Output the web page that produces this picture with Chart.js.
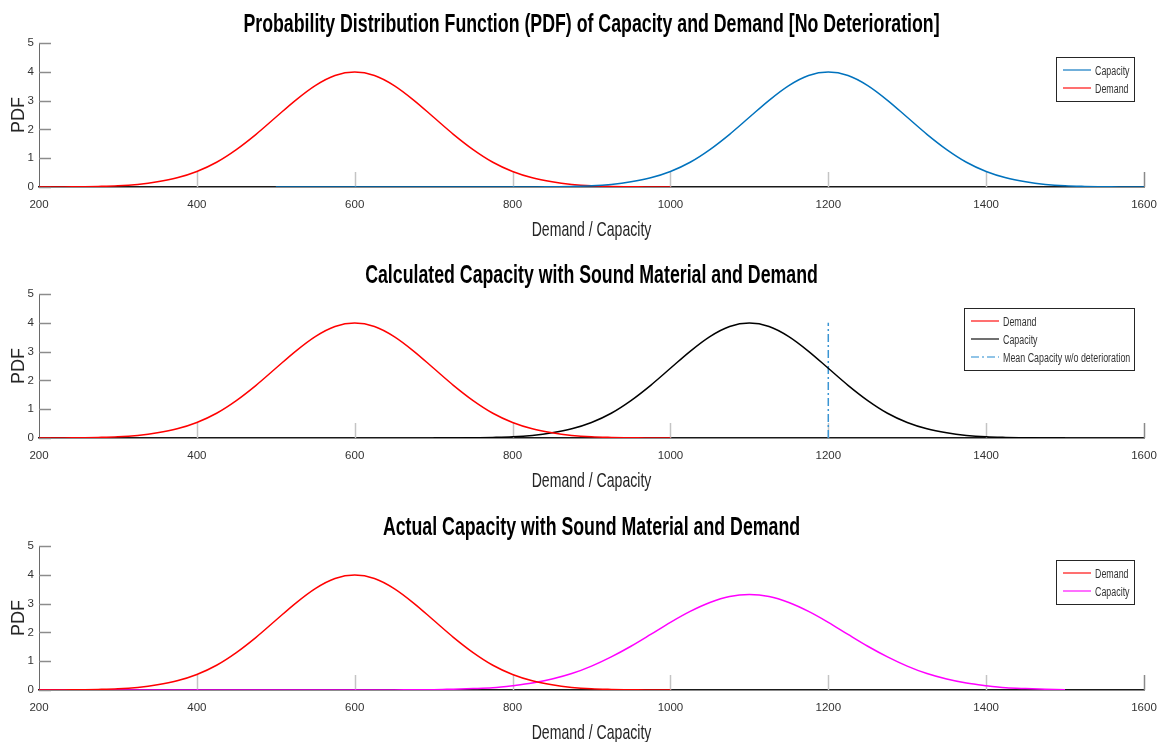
<!DOCTYPE html>
<html>
<head>
<meta charset="utf-8">
<script src="https://cdn.jsdelivr.net/npm/chart.js@4.4.1/dist/chart.umd.min.js"></script>
<style>
  html, body { margin: 0; padding: 0; background: #fff; }
  #page { position: relative; width: 1161px; height: 742px; overflow: hidden; }
  .panel { position: absolute; left: 0; width: 1161px; height: 252px; }
</style>
</head>
<body>
<div id="page">
  <div class="panel" style="top:0"><canvas id="pdf1"></canvas></div>
  <div class="panel" style="top:251px"><canvas id="pdf2"></canvas></div>
  <div class="panel" style="top:503px"><canvas id="pdf3"></canvas></div>
</div>
<script>
// Demand: same curve in all three panels
const demandX = [200, 225, 250, 275, 300, 325, 350, 375, 400, 425, 450, 475, 500, 525, 550, 575, 600,
  625, 650, 675, 700, 725, 750, 775, 800, 825, 850, 875, 900, 925, 950, 975, 1000];
const demandPdf = [0.00, 0.00, 0.01, 0.02, 0.04, 0.09, 0.18, 0.32, 0.54, 0.86, 1.30, 1.83, 2.42, 3.01, 3.52, 3.87, 3.99,
  3.87, 3.52, 3.01, 2.42, 1.83, 1.30, 0.86, 0.54, 0.32, 0.18, 0.09, 0.04, 0.02, 0.01, 0.00, 0.00];

// Capacity, no deterioration (panel 1)
const capacityX = [500, 600, 700, 800, 825, 850, 875, 900, 925, 950, 975, 1000, 1025, 1050, 1075, 1100, 1125, 1150, 1175,
  1200, 1225, 1250, 1275, 1300, 1325, 1350, 1375, 1400, 1425, 1450, 1475, 1500, 1525, 1550, 1575, 1600];
const capacityPdf = [0.00, 0.00, 0.00, 0.00, 0.00, 0.01, 0.02, 0.04, 0.09, 0.18, 0.32, 0.54, 0.86, 1.30, 1.83, 2.42, 3.01, 3.52, 3.87,
  3.99, 3.87, 3.52, 3.01, 2.42, 1.83, 1.30, 0.86, 0.54, 0.32, 0.18, 0.09, 0.04, 0.02, 0.01, 0.00, 0.00];

// Calculated capacity with sound material (panel 2)
const soundCapX = [700, 725, 750, 775, 800, 825, 850, 875, 900, 925, 950, 975, 1000, 1025, 1050, 1075, 1100,
  1125, 1150, 1175, 1200, 1225, 1250, 1275, 1300, 1325, 1350, 1375, 1400, 1425, 1450, 1475, 1500];
const soundCapPdf = [0.00, 0.00, 0.01, 0.02, 0.04, 0.09, 0.18, 0.32, 0.54, 0.86, 1.30, 1.83, 2.42, 3.01, 3.52, 3.87, 3.99,
  3.87, 3.52, 3.01, 2.42, 1.83, 1.30, 0.86, 0.54, 0.32, 0.18, 0.09, 0.04, 0.02, 0.01, 0.00, 0.00];
const meanCapX = [1200, 1200];
const meanCapPdf = [0, 4];

// Actual capacity with sound material (panel 3)
const actualCapX = [200, 300, 400, 500, 600, 650, 675, 700, 725, 750, 775, 800, 825, 850, 875, 900, 925, 950, 975, 1000,
  1025, 1050, 1075, 1100, 1125, 1150, 1175, 1200, 1225, 1250, 1275, 1300, 1325, 1350, 1375, 1400, 1425, 1450, 1475, 1500];
const actualCapPdf = [0.00, 0.00, 0.00, 0.00, 0.00, 0.00, 0.01, 0.01, 0.03, 0.05, 0.08, 0.15, 0.24, 0.38, 0.57, 0.83, 1.15, 1.52, 1.93, 2.35,
  2.73, 3.04, 3.25, 3.32, 3.25, 3.04, 2.73, 2.35, 1.93, 1.52, 1.15, 0.83, 0.57, 0.38, 0.24, 0.15, 0.08, 0.05, 0.03, 0.01];

const sans = '"Liberation Sans", Arial, sans-serif';
Chart.defaults.color = '#333';

const series = (label, xs, ys, color, dash) => ({
  label,
  data: xs.map((x, i) => ({ x, y: ys[i] })),
  borderColor: color,
  borderWidth: 1.5,
  borderDash: dash || [],
  pointRadius: 0,
  fill: false,
  cubicInterpolationMode: dash ? 'default' : 'monotone',
  tension: 0,
});

// the original figure uses tall, narrow lettering: squeeze the text horizontally
function narrowText(ctx, text, x, y, font, sx, align) {
  ctx.save();
  ctx.font = font;
  ctx.textAlign = align;
  ctx.textBaseline = 'alphabetic';
  ctx.translate(x, y);
  ctx.scale(sx, 1);
  ctx.fillText(text, 0, 0);
  ctx.restore();
}

// small tick marks pointing into the plot
const innerTicks = {
  id: 'innerTicks',
  beforeDatasetsDraw(chart) {
    const { ctx, scales: { x, y } } = chart;
    ctx.save();
    ctx.lineWidth = 1.5;
    x.ticks.forEach((t) => {
      if (t.value === x.min) return;
      const px = Math.round(x.getPixelForValue(t.value)) + 0.5;
      ctx.strokeStyle = t.value === x.max ? '#8a8a8a' : '#c4c4c4';
      ctx.beginPath();
      ctx.moveTo(px, y.bottom);
      ctx.lineTo(px, y.bottom - 15);
      ctx.stroke();
    });
    ctx.strokeStyle = '#8c8c8c';
    y.ticks.forEach((t) => {
      const py = Math.round(y.getPixelForValue(t.value)) + 0.5;
      ctx.beginPath();
      ctx.moveTo(x.left, py);
      ctx.lineTo(x.left + 12, py);
      ctx.stroke();
    });
    ctx.restore();
  },
};

// title, x axis title and boxed legend
const panelText = {
  id: 'panelText',
  afterDraw(chart, args, opts) {
    const { ctx, chartArea } = chart;
    const cx = (chartArea.left + chartArea.right) / 2;
    ctx.save();
    ctx.fillStyle = '#000';
    narrowText(ctx, opts.title, cx, 32, 'bold 25px ' + sans, 0.71, 'center');
    ctx.fillStyle = '#262626';
    narrowText(ctx, 'Demand / Capacity', cx, 236, '21px ' + sans, 0.67, 'center');

    const items = chart.data.datasets;
    const legendFont = '12.5px ' + sans;
    const sx = 0.71;
    ctx.font = legendFont;
    const textW = Math.max(...items.map((d) => ctx.measureText(d.label).width)) * sx;
    const w = Math.round(7 + 28 + 4 + textW + 4);
    const h = 26 + (items.length - 1) * 18;
    const right = chartArea.right - 10;
    const top = chartArea.top + 14;
    const left = right - w;
    ctx.fillStyle = '#fff';
    ctx.fillRect(left, top, w, h);
    ctx.strokeStyle = '#262626';
    ctx.lineWidth = 1;
    ctx.strokeRect(left + 0.5, top + 0.5, w, h);
    items.forEach((d, i) => {
      const y = top + 13 + i * 18;
      ctx.strokeStyle = d.borderColor;
      ctx.globalAlpha = 0.75;
      ctx.lineWidth = 1.5;
      ctx.setLineDash(d.borderDash);
      ctx.beginPath();
      ctx.moveTo(left + 7, y);
      ctx.lineTo(left + 35, y);
      ctx.stroke();
      ctx.setLineDash([]);
      ctx.globalAlpha = 1;
      ctx.fillStyle = '#333';
      narrowText(ctx, d.label, left + 39, y + 4.5, legendFont, sx, 'left');
    });
    ctx.restore();
  },
};

function makePanel(id, title, datasets) {
  return new Chart(document.getElementById(id), {
    type: 'line',
    data: { datasets },
    options: {
      responsive: true,
      maintainAspectRatio: false,
      animation: false,
      layout: { padding: { left: 0, right: 17, top: 43, bottom: 7 } },
      plugins: {
        legend: { display: false },
        tooltip: { enabled: false },
        title: { display: false },
        panelText: { title },
      },
      scales: {
        x: {
          type: 'linear',
          min: 200,
          max: 1600,
          // tick marks are drawn by innerTicks; tickLength only spaces the labels
          grid: { display: false, drawTicks: true, tickLength: 8 },
          border: { color: '#1a1a1a', width: 1.5 },
          ticks: {
            stepSize: 200, padding: 3, maxRotation: 0, autoSkip: false,
            format: { useGrouping: false },
            font: { family: sans, size: 11.5 },
          },
          title: { display: false },
          afterFit(s) { s.height = 58; },
        },
        y: {
          min: 0,
          max: 5,
          grid: { display: false, drawTicks: false },
          border: { color: '#6a6a6a', width: 1 },
          ticks: { stepSize: 1, padding: 5, font: { family: sans, size: 11.5 } },
          title: {
            display: true,
            text: 'PDF',
            color: '#262626',
            font: { family: sans, size: 18, lineHeight: 1.2 },
            padding: { top: 8, bottom: 0 },
          },
          afterFit(s) { s.width = 39; },
        },
      },
    },
    plugins: [innerTicks, panelText],
  });
}

makePanel('pdf1', 'Probability Distribution Function (PDF) of Capacity and Demand [No Deterioration]', [
  series('Capacity', capacityX, capacityPdf, '#0072BD'),
  series('Demand', demandX, demandPdf, '#FF0000'),
]);

makePanel('pdf2', 'Calculated Capacity with Sound Material and Demand', [
  series('Demand', demandX, demandPdf, '#FF0000'),
  series('Capacity', soundCapX, soundCapPdf, '#000000'),
  series('Mean Capacity w/o deterioration', meanCapX, meanCapPdf, '#3A95D3', [8, 3, 2, 3]),
]);

makePanel('pdf3', 'Actual Capacity with Sound Material and Demand', [
  series('Demand', demandX, demandPdf, '#FF0000'),
  series('Capacity', actualCapX, actualCapPdf, '#FF00FF'),
]);
</script>
</body>
</html>
